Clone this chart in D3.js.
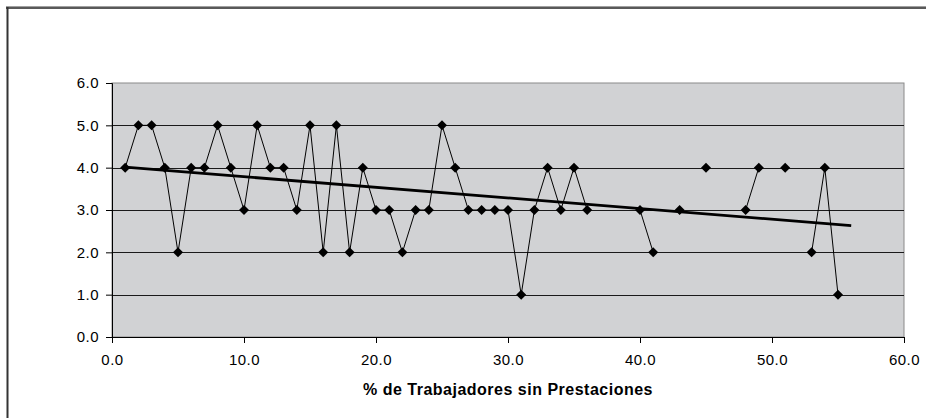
<!DOCTYPE html>
<html>
<head>
<meta charset="utf-8">
<script src="https://cdn.jsdelivr.net/npm/d3@7"></script>
<style>
  body { margin: 0; background: #fff; }
  svg { display: block; font-family: "Liberation Sans", Arial, sans-serif; }
  .tick text { font-family: "Liberation Sans", Arial, sans-serif; font-size: 15px; letter-spacing: 0.5px; fill: #000; }
</style>
</head>
<body>
<div id="chart"></div>
<script>
// % de trabajadores sin prestaciones (x) vs puntaje (y), null = celda vacia
var xValues = [1,2,3,4,5,6,7,8,9,10,11,12,13,14,15,16,17,18,19,20,21,22,23,24,25,26,27,28,29,30,
               31,32,33,34,35,36,37,38,39,40,41,42,43,44,45,46,47,48,49,50,51,52,53,54,55]
var yValues = [4,5,5,4,2,4,4,5,4,3,5,4,4,3,5,2,5,2,4,3,3,2,3,3,5,4,3,3,3,3,
               1,3,4,3,4,3,null,null,null,3,2,null,3,null,4,null,null,3,4,null,4,null,2,4,1]
var xTicks = [0,10,20,30,40,50,60]
var yTicks = [0,1,2,3,4,5,6]
var xTitle = "% de Trabajadores sin Prestaciones"

var width = 926, height = 418
var margin = {left: 112, right: 22, top: 83, bottom: 81}

var svg = d3.select("#chart").append("svg")
    .attr("width", width)
    .attr("height", height)

// marco del grafico (solo arriba e izquierda visibles)
svg.append("line").attr("x1", 6).attr("x2", width).attr("y1", 6.5).attr("y2", 6.5)
    .attr("stroke", "#a0a0a0").attr("stroke-width", 1)
svg.append("line").attr("x1", 6).attr("x2", width).attr("y1", 8).attr("y2", 8)
    .attr("stroke", "#222").attr("stroke-width", 1.5)
svg.append("line").attr("x1", 7.5).attr("x2", 7.5).attr("y1", 7).attr("y2", height)
    .attr("stroke", "#333").attr("stroke-width", 2)

var x = d3.scaleLinear().domain([0, 60]).range([margin.left, width - margin.right])
var y = d3.scaleLinear().domain([0, 6]).range([height - margin.bottom, margin.top])

// fondo gris
svg.append("rect")
    .attr("x", x(0)).attr("y", y(6))
    .attr("width", x(60) - x(0)).attr("height", y(0) - y(6))
    .attr("fill", "#d1d2d4")
    .attr("stroke", "#8a8a8a").attr("stroke-width", 1)

// lineas de division
svg.append("g").selectAll("line")
    .data(yTicks.filter(function(d) { return d > 0 && d < 6; }))
    .enter().append("line")
    .attr("x1", x(0)).attr("x2", x(60))
    .attr("y1", function(d) { return Math.round(y(d)) + 0.5; })
    .attr("y2", function(d) { return Math.round(y(d)) + 0.5; })
    .attr("stroke", "#1a1a1a").attr("stroke-width", 1)

var xAxis = svg.append("g")
    .attr("transform", "translate(0," + (y(0)) + ")")
    .call(d3.axisBottom(x).tickValues(xTicks).tickSize(6).tickPadding(11)
        .tickFormat(d3.format(".1f")))
xAxis.select(".domain").attr("stroke", "#000")

var yAxis = svg.append("g")
    .attr("transform", "translate(" + x(0) + ",0)")
    .call(d3.axisLeft(y).tickValues(yTicks).tickSize(6).tickPadding(7)
        .tickFormat(d3.format(".1f")))
yAxis.select(".domain").attr("stroke", "#000")
svg.selectAll(".tick line").attr("stroke", "#000")

// serie
var pts = xValues.map(function(d, i) { return {x: d, y: yValues[i]}; })
var line = d3.line()
    .defined(function(d) { return d.y !== null; })
    .x(function(d) { return x(d.x); })
    .y(function(d) { return y(d.y); })

svg.append("path")
    .datum(pts)
    .attr("d", line)
    .attr("fill", "none")
    .attr("stroke", "#000")
    .attr("stroke-width", 1)

// linea de tendencia (regresion lineal, pronostico +1)
var valid = pts.filter(function(d) { return d.y !== null; })
var mx = d3.mean(valid, function(d) { return d.x; })
var my = d3.mean(valid, function(d) { return d.y; })
var sxy = d3.sum(valid, function(d) { return (d.x - mx) * (d.y - my); })
var sxx = d3.sum(valid, function(d) { return (d.x - mx) * (d.x - mx); })
var slope = sxy / sxx, intercept = my - slope * mx
var x0 = d3.min(valid, function(d) { return d.x; })
var x1 = d3.max(valid, function(d) { return d.x; }) + 1

svg.append("line")
    .attr("x1", x(x0)).attr("y1", y(intercept + slope * x0))
    .attr("x2", x(x1)).attr("y2", y(intercept + slope * x1))
    .attr("stroke", "#000")
    .attr("stroke-width", 2.8)

// marcadores
svg.append("g").selectAll("path")
    .data(valid)
    .enter().append("path")
    .attr("d", "M0,-5L5,0L0,5L-5,0Z")
    .attr("transform", function(d) { return "translate(" + x(d.x) + "," + y(d.y) + ")"; })
    .attr("fill", "#000")

svg.append("text")
    .attr("x", (x(0) + x(60)) / 2)
    .attr("y", 395)
    .attr("text-anchor", "middle")
    .style("font-size", "16px")
    .style("font-weight", "bold")
    .style("letter-spacing", "0.5px")
    .text(xTitle)
</script>
</body>
</html>
